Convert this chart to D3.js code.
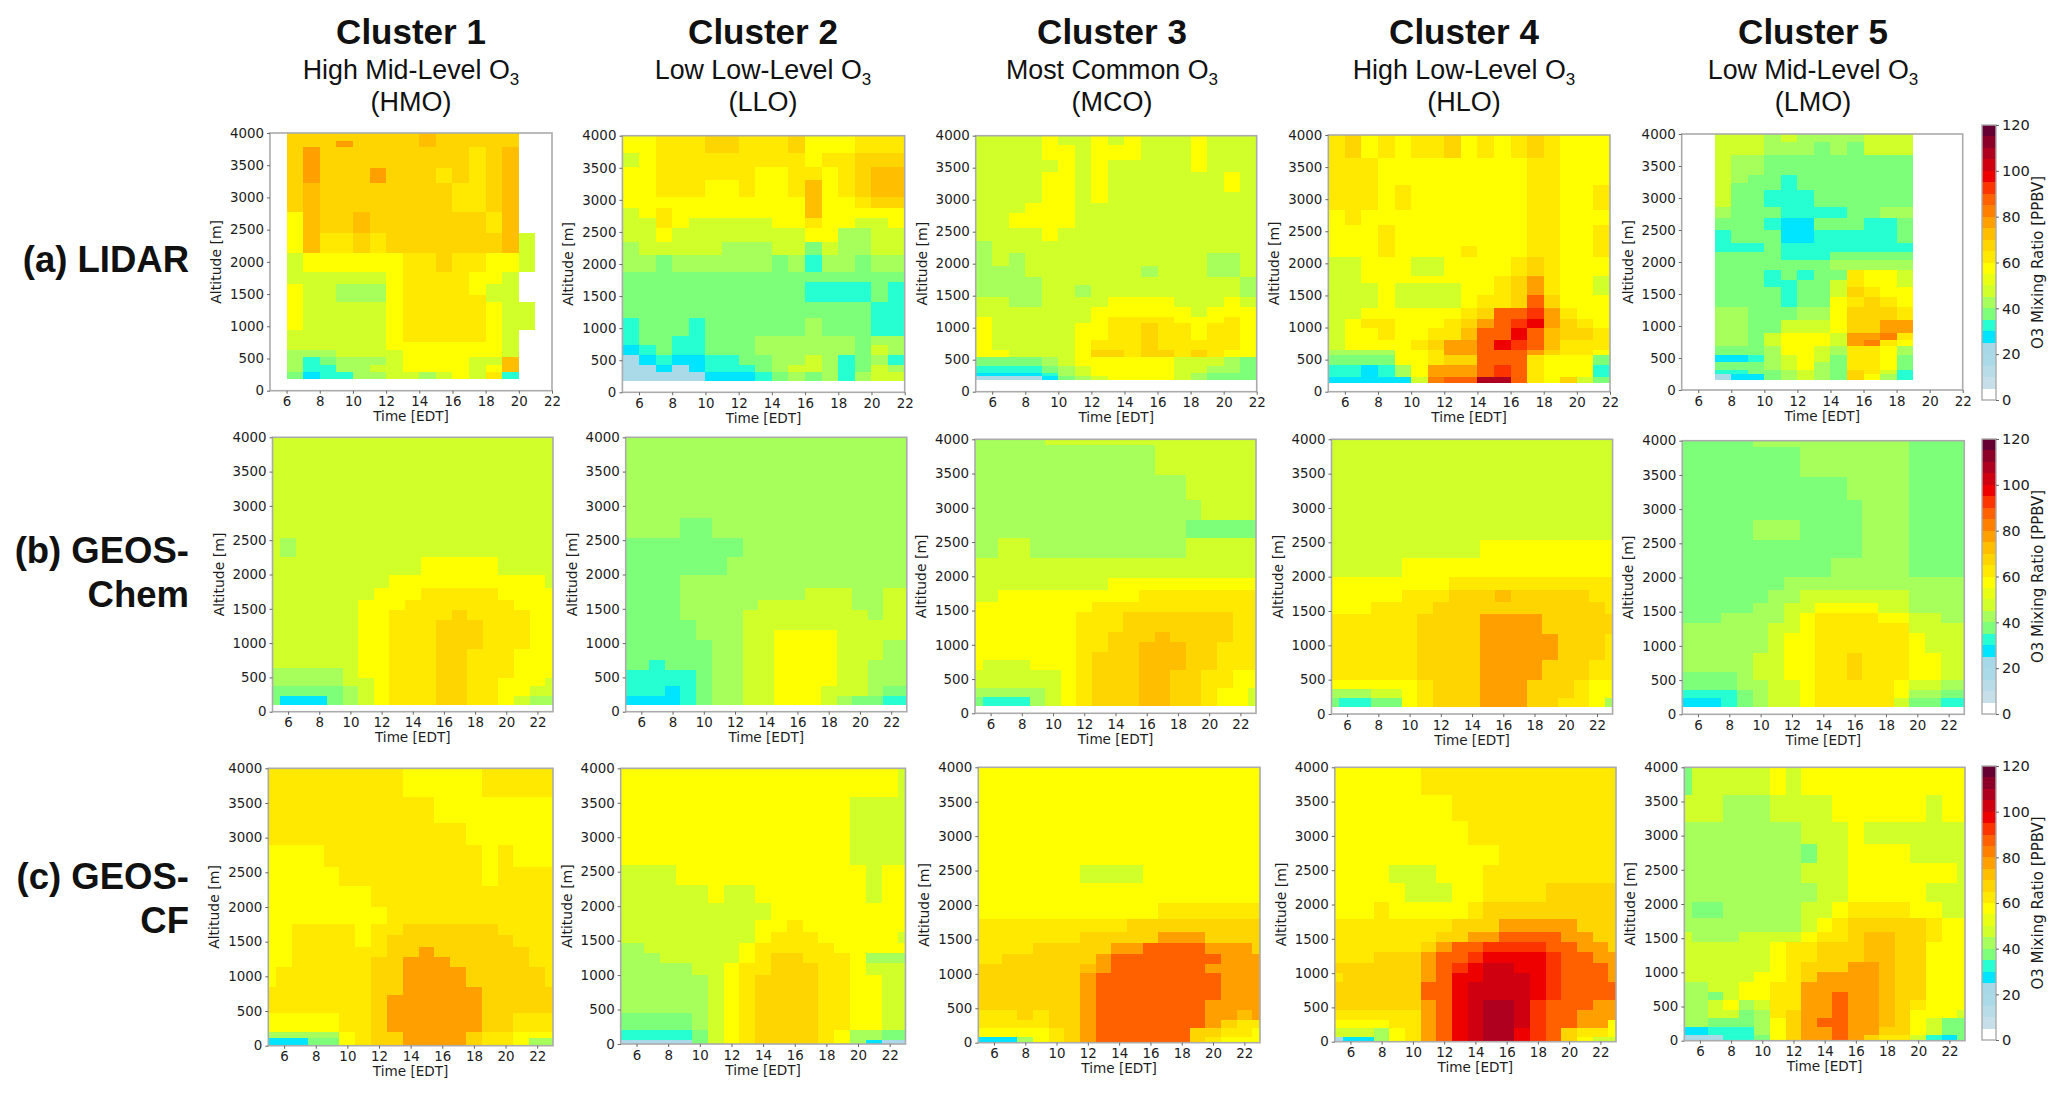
<!DOCTYPE html>
<html><head><meta charset="utf-8">
<script src="https://cdn.jsdelivr.net/npm/d3@7/dist/d3.min.js"></script>
<style>html,body{margin:0;padding:0;background:#fff}svg{display:block}</style>
</head><body><div id="chart"></div>
<script>
// ---- categories and labels
const clusterNames=["Cluster 1","Cluster 2","Cluster 3","Cluster 4","Cluster 5"];
const clusterSubs=["High Mid-Level O","Low Low-Level O","Most Common O","High Low-Level O","Low Mid-Level O"];
const clusterAbbr=["(HMO)","(LLO)","(MCO)","(HLO)","(LMO)"];
const altTicks=[0,500,1000,1500,2000,2500,3000,3500,4000];
const hourTicks=[6,8,10,12,14,16,18,20,22];
const barTicks=[0,20,40,60,80,100,120];
const barBands=[0,5,10,15,20,25,30,35,40,45,50,55,60,65,70,75,80,85,90,95,100,105,110,115,120];
const barColors=["#ffffff","#c6dfe8","#b8dce8","#aad9e8","#a6d8e8","#00e5ff","#26ffd2","#7dff7a","#a6ff5a","#d0ff2a","#e8ff14","#ffff00","#ffe900","#ffd500","#ffbf00","#ff9f00","#ff7f00","#ff6000","#fb3400","#ee0000","#cf0010","#b00020","#8c0028","#660033"];

// ---- LIDAR: altitude edges [m] and O3 by hour (ppbv), bottom row first
const a1Start=6;
const a1Alt=[180,295,400,530,630,760,940,1370,1490,1650,1840,2135,2445,2780,3225,3455,3775,3870,4000];
const a1Vals=[
[37,27,32,32,42,42,47,47,42,47,57,47,62,32,null],
[42,32,32,42,42,47,47,57,57,57,57,47,57,72,null],
[42,32,37,42,42,42,47,57,57,57,57,47,47,72,null],
[42,42,42,47,47,47,47,57,57,57,57,57,57,47,null],
[47,47,47,47,47,47,57,57,57,57,57,57,57,47,null],
[47,47,47,47,47,47,57,62,62,62,62,62,57,47,null],
[57,47,47,47,47,47,57,62,62,62,62,62,57,47,47],
[57,47,47,42,42,42,57,62,62,62,62,62,47,47,null],
[57,47,47,42,42,42,57,62,62,62,62,57,47,47,null],
[47,47,47,47,47,47,57,62,62,62,62,57,57,47,null],
[47,57,57,57,57,57,57,62,62,67,62,62,57,57,47],
[57,72,62,62,67,62,67,67,67,67,67,67,67,72,47],
[57,72,67,67,72,67,67,67,67,67,67,67,62,72,null],
[67,72,67,67,67,67,67,67,67,67,62,62,67,72,null],
[67,77,67,67,67,77,67,67,67,62,67,62,67,72,null],
[67,77,67,67,67,67,67,67,67,67,67,62,67,72,null],
[67,67,67,77,67,67,67,67,72,67,67,67,67,67,null],
[67,67,67,67,67,67,67,67,72,67,67,67,67,67,null]];

const a2Start=5;
const a2Alt=[175,320,425,580,740,870,1155,1415,1725,1880,2140,2350,2555,2710,2870,3050,3310,3515,3725,4000];
const a2Vals=[
[15,15,15,15,15,27,27,27,32,37,42,37,42,32,42,47,47],
[15,15,27,15,27,32,32,32,37,42,47,47,42,32,37,47,42],
[15,27,32,27,27,32,32,37,37,42,42,47,42,32,37,42,32],
[27,32,37,32,32,37,37,37,42,42,42,42,42,42,37,47,42],
[32,37,37,32,32,37,37,37,42,42,42,42,42,42,37,42,42],
[32,37,37,37,32,37,37,37,37,37,37,42,37,37,37,32,32],
[37,37,37,37,37,37,37,37,37,37,37,37,37,37,37,32,32],
[37,37,37,37,37,37,37,37,37,37,37,32,32,32,32,37,32],
[37,37,37,37,37,37,37,37,37,37,37,37,37,37,37,37,37],
[42,42,37,42,42,42,42,42,42,37,42,32,42,42,37,42,42],
[42,47,47,47,47,47,42,42,42,47,47,37,47,42,42,47,47],
[47,47,57,47,47,47,47,47,47,47,47,57,57,42,42,47,47],
[47,47,62,57,47,47,47,47,47,57,57,62,57,57,47,47,57],
[47,57,62,57,57,57,57,57,57,57,57,72,57,57,57,57,57],
[57,57,57,57,57,57,57,57,57,57,57,72,57,57,62,67,67],
[57,57,62,62,62,57,57,62,57,57,62,72,57,62,67,72,72],
[57,57,62,62,62,62,62,62,57,57,62,62,57,62,67,72,72],
[47,57,62,62,62,62,62,62,62,62,62,57,62,62,67,67,67],
[57,57,62,62,62,67,67,62,62,62,67,57,57,57,62,62,62]];

const a3Start=5;
const a3Alt=[180,245,300,400,545,655,810,1070,1170,1330,1485,1665,1800,1960,2170,2350,2560,2790,2950,3125,3440,3620,3850,4000];
const a3Vals=[
[15,15,15,15,27,37,42,47,57,57,57,57,47,42,37,37,37],
[27,27,27,27,32,42,47,57,57,57,57,57,47,42,37,37,37],
[32,32,32,32,37,42,47,57,57,57,57,57,47,47,42,42,37],
[37,37,37,37,42,47,57,57,57,57,57,57,47,47,47,42,37],
[57,57,47,47,47,47,57,67,67,62,67,67,62,67,62,57,57],
[57,47,47,47,47,47,57,62,62,62,67,62,62,62,62,62,57],
[57,47,47,47,47,47,57,57,62,62,67,62,62,57,62,62,57],
[57,47,47,47,47,47,47,57,62,62,62,62,57,57,57,62,57],
[47,47,47,47,47,47,47,57,57,57,57,57,57,47,57,57,57],
[47,47,42,42,47,47,47,47,57,57,57,57,47,47,47,57,47],
[42,42,42,42,47,47,42,47,47,47,47,47,47,47,47,47,42],
[42,42,42,42,47,47,47,47,47,47,47,47,47,47,47,47,42],
[42,42,42,47,47,47,47,47,47,47,42,47,47,47,42,42,47],
[42,47,42,47,47,47,47,47,47,47,47,47,47,47,42,42,47],
[42,47,47,47,47,47,47,47,47,47,47,47,47,47,47,47,47],
[47,47,47,47,57,47,47,47,47,47,47,47,47,47,47,47,47],
[47,47,57,57,57,57,47,47,47,47,47,47,47,47,47,47,47],
[47,47,47,57,57,57,47,47,47,47,47,47,47,47,47,47,47],
[47,47,47,47,57,57,47,57,47,47,47,47,47,47,47,47,47],
[47,47,47,47,57,57,47,57,47,47,47,47,47,47,47,57,47],
[47,47,47,47,47,57,47,57,47,47,47,47,47,57,47,47,47],
[47,47,47,47,57,57,47,57,57,57,47,47,47,57,47,47,47],
[47,47,47,47,57,47,47,57,47,57,47,47,47,57,47,47,47]];

const a4Start=5;
const a4Alt=[140,235,420,570,650,805,985,1140,1300,1510,1690,1800,2100,2270,2590,2830,3220,3640,4000];
const a4Vals=[
[27,27,27,27,27,47,82,87,87,107,107,87,62,57,67,47,37],
[32,32,27,32,42,57,77,77,77,87,92,87,62,57,57,57,32],
[37,37,37,37,57,57,62,67,67,87,87,87,62,57,57,57,37],
[42,42,42,42,57,57,62,77,77,87,87,87,77,67,62,62,57],
[47,57,57,57,57,62,67,77,77,87,97,92,87,72,62,62,62],
[47,57,57,62,57,57,62,62,72,87,87,97,87,72,67,67,62],
[47,57,62,62,57,57,57,62,67,77,87,92,97,77,67,62,57],
[47,47,57,57,57,57,57,57,62,67,87,87,92,77,62,57,57],
[47,47,47,57,47,47,47,47,57,62,62,67,87,67,57,57,57],
[47,47,47,57,47,47,47,47,57,57,62,67,77,62,57,57,47],
[47,47,57,57,57,57,57,57,57,57,62,67,77,62,57,57,47],
[47,47,57,57,57,47,47,57,57,57,57,62,67,62,57,57,57],
[57,57,57,62,57,57,57,57,62,57,57,57,62,62,57,57,62],
[57,57,57,62,57,57,57,57,57,57,57,57,62,62,57,57,62],
[57,62,57,57,57,57,57,57,57,57,57,57,62,62,57,57,57],
[62,62,62,57,62,57,57,57,57,57,57,57,62,62,57,57,62],
[62,62,62,57,57,57,57,57,57,57,57,57,62,62,57,57,57],
[62,67,57,62,57,62,62,67,57,62,57,62,67,62,57,57,57]];

const a5Start=7;
const a5Alt=[155,250,310,440,545,680,780,885,1090,1300,1460,1615,1720,1875,2030,2160,2290,2500,2680,2865,3125,3230,3360,3670,3880,4000];
const a5Vals=[
[15,27,27,37,42,47,42,37,67,57,42,32],
[32,32,37,37,42,47,42,37,67,62,47,32],
[37,37,37,42,47,57,42,37,62,62,57,37],
[27,27,32,42,47,57,47,37,62,62,57,37],
[37,37,37,42,57,57,47,42,62,62,57,42],
[42,42,37,47,57,57,57,47,77,82,62,57],
[42,42,37,47,57,57,57,47,77,77,82,62],
[42,42,37,37,47,47,47,57,67,67,77,77],
[42,42,37,37,37,42,42,57,67,67,67,62],
[37,37,37,37,32,37,37,57,62,67,62,57],
[37,37,37,37,32,37,37,47,67,62,57,57],
[37,37,37,32,32,37,37,47,62,57,57,47],
[37,37,37,32,37,32,37,37,62,57,57,47],
[37,37,37,37,37,37,37,42,42,42,42,42],
[37,37,37,37,32,32,32,37,37,37,37,37],
[32,32,32,37,32,32,32,32,32,32,32,32],
[32,37,37,37,27,27,32,32,32,32,32,37],
[37,37,37,32,27,27,37,37,37,32,32,37],
[42,37,37,37,32,32,32,32,37,37,42,42],
[47,37,37,32,32,32,37,37,37,37,37,37],
[47,37,37,37,32,37,37,37,37,37,37,37],
[47,42,37,37,32,37,37,37,37,37,37,37],
[47,42,42,37,37,37,37,37,37,37,37,37],
[47,47,47,42,42,42,37,42,37,47,47,47],
[47,47,47,42,47,42,42,42,42,47,47,47]];

// ---- GEOS-Chem: 19 columns, centred on hours 5..23
const b1Alt=[100,235,370,490,630,920,1335,1480,1630,1800,1990,2260,2530,4000];
const b1Vals=[
[37,27,27,27,37,42,47,57,62,62,62,67,67,62,62,57,47,42,42],
[37,37,37,37,37,42,47,57,62,62,62,67,67,62,62,57,57,47,47],
[42,42,42,42,42,47,47,57,62,62,62,67,67,62,62,57,57,57,47],
[42,42,42,42,42,47,57,57,62,62,62,67,67,62,62,62,57,57,57],
[47,47,47,47,47,47,57,57,62,62,62,67,67,62,62,62,57,57,57],
[47,47,47,47,47,47,57,57,62,62,62,67,67,67,62,62,62,57,57],
[47,47,47,47,47,47,57,57,62,62,62,62,67,62,62,62,62,57,57],
[47,47,47,47,47,47,57,57,57,62,62,62,62,62,62,62,57,57,57],
[47,47,47,47,47,47,47,57,57,57,62,62,62,62,62,57,57,57,57],
[47,47,47,47,47,47,47,47,57,57,57,57,57,57,57,57,57,57,47],
[47,47,47,47,47,47,47,47,47,47,57,57,57,57,57,47,47,47,47],
[47,42,47,47,47,47,47,47,47,47,47,47,47,47,47,47,47,47,47],
[47,47,47,47,47,47,47,47,47,47,47,47,47,47,47,47,47,47,47]];

const b2Alt=[100,235,370,610,750,1050,1190,1335,1480,1630,1800,1990,2260,2530,2820,4000];
const b2Vals=[
[27,27,27,27,32,37,42,42,47,47,57,57,57,47,42,37,37,32,32],
[32,32,32,27,32,37,42,42,47,47,57,57,57,47,47,47,42,37,37],
[32,32,32,32,32,37,42,42,47,47,57,57,57,57,47,47,42,42,42],
[37,37,32,37,37,37,42,42,47,47,57,57,57,57,47,47,42,42,42],
[37,37,37,37,37,37,42,42,47,47,57,57,57,57,47,47,47,42,42],
[37,37,37,37,37,42,42,42,47,47,57,57,57,57,47,47,47,47,47],
[37,37,37,37,37,42,42,42,47,47,47,47,47,47,47,47,47,47,47],
[37,37,37,37,42,42,42,42,47,47,47,47,47,47,47,47,42,47,47],
[37,37,37,37,42,42,42,42,42,47,47,47,47,47,47,42,42,47,47],
[37,37,37,37,42,42,42,42,42,42,42,42,47,47,47,42,42,47,47],
[37,37,37,37,42,42,42,42,42,42,42,42,42,42,42,42,42,42,42],
[37,37,37,37,37,37,37,42,42,42,42,42,42,42,42,42,42,42,42],
[37,37,37,37,37,37,37,37,42,42,42,42,42,42,42,42,42,42,42],
[42,42,42,42,37,37,42,42,42,42,42,42,42,42,42,42,42,42,42],
[42,42,42,42,42,42,42,42,42,42,42,42,42,42,42,42,42,42,42]];

const b3Alt=[100,240,365,630,780,900,1045,1190,1480,1625,1795,1980,2265,2555,2820,3115,3480,3920,4000];
const b3Vals=[
[37,32,32,32,42,47,57,62,67,67,67,72,72,67,67,62,57,57,47],
[42,42,42,42,42,47,57,62,67,67,67,72,72,67,67,62,57,57,47],
[47,47,47,47,47,47,57,62,67,67,67,72,72,67,67,62,62,57,57],
[57,47,47,47,57,57,57,62,67,67,67,72,72,72,67,67,62,62,62],
[57,57,57,57,57,57,57,62,67,67,67,72,72,72,67,67,62,62,62],
[57,57,57,57,57,57,57,62,62,67,67,72,72,72,67,67,62,62,62],
[57,57,57,57,57,57,57,62,62,67,67,67,72,67,67,67,67,62,62],
[57,57,57,57,57,57,57,62,62,62,67,67,67,67,67,67,67,62,62],
[57,57,57,57,57,57,57,57,62,62,62,62,62,62,62,62,62,62,62],
[47,47,57,57,57,57,57,57,57,57,57,62,62,62,62,62,62,62,62],
[47,47,47,47,47,47,47,47,47,57,57,57,57,57,57,57,57,57,57],
[47,47,47,47,47,47,47,47,47,47,47,47,47,47,47,47,47,47,47],
[42,42,47,47,42,42,42,42,42,42,42,42,42,42,47,47,47,47,47],
[42,42,42,42,42,42,42,42,42,42,42,42,42,42,37,37,37,37,37],
[42,42,42,42,42,42,42,42,42,42,42,42,42,42,42,47,47,47,47],
[42,42,42,42,42,42,42,42,42,42,42,42,42,42,47,47,47,47,47],
[42,42,42,42,42,42,42,42,42,42,42,42,47,47,47,47,47,47,47],
[42,42,42,42,42,47,47,47,47,47,47,47,47,47,47,47,47,47,47]];

const b4Alt=[100,240,365,490,780,1170,1460,1630,1800,1995,2265,2530,4000];
const b4Vals=[
[37,32,32,37,37,57,62,67,67,67,77,77,77,67,67,62,62,57,42],
[42,42,42,47,47,57,62,67,67,67,77,77,77,67,67,67,62,57,57],
[57,57,57,57,57,57,62,67,67,67,77,77,77,67,67,67,62,57,57],
[62,62,62,62,62,62,67,67,67,67,77,77,77,77,67,67,67,62,62],
[62,62,62,62,62,62,67,67,67,67,77,77,77,77,77,67,67,67,62],
[62,62,62,62,62,62,67,67,67,67,77,77,77,77,67,67,67,67,67],
[57,57,57,62,62,62,62,67,67,67,67,67,67,67,67,67,67,67,62],
[57,57,57,57,57,62,62,62,67,67,67,72,67,67,67,67,67,62,62],
[57,57,57,57,57,57,57,57,62,62,62,62,62,62,62,62,62,62,62],
[47,47,47,47,47,57,57,57,57,57,57,57,57,57,57,57,57,57,57],
[47,47,47,47,47,47,47,47,47,47,57,57,57,57,57,57,57,57,57],
[47,47,47,47,47,47,47,47,47,47,47,47,47,47,47,47,47,47,47]];

const b5Alt=[100,235,355,500,625,890,1185,1330,1480,1625,1820,2010,2280,2550,2840,3130,3475,3910,4000];
const b5Vals=[
[27,27,27,32,37,42,47,47,57,62,62,62,62,62,47,37,37,32,32],
[32,32,32,32,37,42,47,47,57,62,62,62,62,62,57,42,42,37,37],
[37,37,37,37,42,42,47,47,57,62,62,62,62,62,57,47,47,42,42],
[37,37,37,37,42,47,47,57,57,62,62,67,62,62,62,57,57,47,47],
[42,42,42,42,42,47,47,57,57,62,62,67,62,62,62,57,57,47,47],
[42,42,42,42,42,42,47,57,57,62,62,62,62,62,62,57,47,47,47],
[42,42,42,42,42,42,47,47,57,62,62,62,62,62,62,47,47,47,47],
[37,37,37,42,42,42,42,47,57,62,62,62,62,57,57,47,47,42,42],
[37,37,37,37,37,42,42,47,47,57,57,57,57,47,47,42,42,42,42],
[37,37,37,37,37,37,42,42,47,47,47,47,47,47,47,42,42,42,42],
[37,37,37,37,37,37,37,42,42,42,42,42,42,42,42,42,42,42,42],
[37,37,37,37,37,37,37,37,37,37,42,42,42,42,42,37,37,37,37],
[37,37,37,37,37,37,37,37,37,37,37,37,42,42,42,37,37,37,37],
[37,37,37,37,37,42,42,42,37,37,37,37,42,42,42,37,37,37,37],
[37,37,37,37,37,37,37,37,37,37,37,37,42,42,42,37,37,37,37],
[37,37,37,37,37,37,37,37,37,37,37,42,42,42,42,37,37,37,37],
[37,37,37,37,37,37,37,37,42,42,42,42,42,42,42,37,37,37,37],
[37,37,37,37,37,42,42,42,42,42,42,42,42,42,42,37,37,37,37]];

// ---- GEOS-CF: 19 columns, centred on hours 5..23
const c1Alt=[0,105,200,465,730,850,1140,1285,1420,1590,1760,2000,2300,2580,2895,3205,3590,4000];
const c1Vals=[
[27,27,27,37,37,57,62,67,67,77,77,77,77,67,62,62,57,42,42],
[42,42,42,42,42,57,62,67,67,77,77,77,77,67,62,62,57,57,57],
[57,57,57,57,57,62,62,67,77,77,77,77,77,77,67,67,62,62,62],
[62,62,62,62,62,62,62,67,77,77,77,77,77,77,67,67,67,67,67],
[62,62,62,62,62,62,62,67,67,77,77,77,77,77,67,67,67,67,67],
[57,62,62,62,62,62,62,67,67,77,77,77,77,67,67,67,67,67,62],
[57,57,62,62,62,62,62,67,67,77,77,77,67,67,67,67,67,62,62],
[57,57,62,62,62,62,62,62,67,67,77,67,67,67,67,67,67,62,62],
[57,57,62,62,62,62,57,62,67,67,67,67,67,67,67,67,62,62,62],
[57,57,62,62,62,62,57,62,62,67,67,67,67,67,67,62,62,62,62],
[57,57,57,57,57,57,57,57,62,62,62,62,62,62,62,62,62,62,62],
[57,57,57,57,57,57,57,62,62,62,62,62,62,62,62,62,62,62,62],
[57,57,57,57,57,62,62,62,62,62,62,62,62,62,57,62,62,62,62],
[57,57,57,57,62,62,62,62,62,62,62,62,62,62,57,62,57,57,57],
[62,62,62,62,62,62,62,62,62,62,62,62,62,57,57,57,57,57,57],
[62,62,62,62,62,62,62,62,62,62,62,57,57,57,57,57,57,57,57],
[62,62,62,62,62,62,62,62,62,57,57,57,57,57,62,62,62,62,62]];

const c2Alt=[0,60,200,445,1000,1170,1315,1460,1630,1800,2040,2305,2600,3590,4000];
const c2Vals=[
[15,15,15,15,15,37,47,57,62,67,67,67,67,62,57,42,27,15,15],
[32,32,32,32,32,37,47,57,62,67,67,67,67,62,57,42,42,37,37],
[37,37,37,37,37,42,47,57,62,67,67,67,67,62,62,57,57,47,47],
[42,42,42,42,42,42,47,57,62,67,67,67,67,62,62,57,57,47,47],
[42,42,42,42,42,47,47,57,62,62,67,67,67,62,62,57,47,47,47],
[42,42,42,47,47,47,47,47,57,62,67,67,62,62,62,57,42,42,42],
[42,42,47,47,47,47,47,47,57,62,62,62,62,62,57,57,57,57,57],
[47,47,47,47,47,47,47,47,47,57,62,62,62,57,57,57,57,57,47],
[47,47,47,47,47,47,47,47,47,57,57,62,57,57,57,57,57,57,57],
[47,47,47,47,47,47,47,47,47,47,57,57,57,57,57,57,57,57,57],
[47,47,47,47,47,47,57,47,47,57,57,57,57,57,57,57,47,57,57],
[47,47,47,47,57,57,57,57,57,57,57,57,57,57,57,57,47,57,57],
[57,57,57,57,57,57,57,57,57,57,57,57,57,57,57,47,47,47,47],
[57,57,57,57,57,57,57,57,57,57,57,57,57,57,57,57,57,57,47]];

const c3Alt=[0,90,210,330,475,620,1010,1150,1295,1450,1610,1790,2025,2315,2580,4000];
const c3Vals=[
[27,27,27,42,57,62,67,77,87,87,87,87,87,87,67,62,57,57,57],
[57,57,57,57,57,62,67,77,87,87,87,87,87,87,67,67,62,62,57],
[62,62,62,62,62,67,67,77,87,87,87,87,87,87,87,77,67,62,62],
[62,62,62,67,62,67,67,77,87,87,87,87,87,87,87,77,77,72,77],
[67,67,67,67,67,67,67,77,87,87,87,87,87,87,87,77,77,77,77],
[67,67,67,67,67,67,67,77,87,87,87,87,87,87,87,87,77,77,77],
[67,67,67,67,67,67,67,72,77,87,87,87,87,87,87,77,77,77,77],
[62,62,67,67,67,67,67,67,77,87,87,87,87,87,87,87,77,77,77],
[62,62,62,62,67,67,67,67,67,77,77,87,87,87,87,77,77,77,67],
[62,62,62,62,62,62,62,67,67,67,67,67,77,77,77,67,67,67,67],
[62,62,62,62,62,62,62,62,62,62,67,67,67,67,67,67,67,67,67],
[57,57,57,57,57,57,57,57,57,57,57,57,62,62,62,62,62,62,62],
[57,57,57,57,57,57,57,57,57,57,57,57,57,57,57,57,57,57,57],
[57,57,57,57,57,57,57,47,47,47,47,57,57,57,57,57,57,57,57],
[57,57,57,57,57,57,57,57,57,57,57,57,57,57,57,57,57,57,57]];

const c4Alt=[0,75,195,315,460,610,875,1000,1140,1310,1460,1605,1785,2040,2315,2580,2870,3210,3600,4000];
const c4Vals=[
[15,27,27,42,57,62,77,87,97,102,107,107,97,92,87,67,57,47,47],
[47,47,47,42,57,62,77,87,97,102,107,107,97,92,87,67,62,62,57],
[57,57,57,57,62,62,77,87,97,102,107,107,102,92,87,87,77,77,57],
[62,62,62,62,62,62,77,87,97,102,107,107,102,92,87,87,77,77,77],
[67,67,67,67,67,67,77,87,97,102,107,107,102,92,87,87,87,77,77],
[67,67,67,67,67,67,87,87,97,102,102,102,102,97,92,87,87,87,87],
[62,67,67,67,67,67,77,87,97,97,102,102,102,97,92,87,87,87,77],
[67,67,67,67,67,67,77,87,92,97,102,102,97,97,92,87,87,87,77],
[62,62,62,67,67,67,77,87,87,92,97,97,97,97,92,87,87,77,77],
[62,62,62,62,62,62,67,77,87,87,92,92,92,92,87,87,77,77,67],
[62,62,62,62,62,62,62,67,67,77,77,87,87,87,87,77,77,67,67],
[62,62,62,62,62,62,62,62,67,67,67,77,77,77,77,77,67,67,67],
[57,57,57,62,57,57,57,57,57,62,67,67,67,67,67,67,67,67,67],
[57,57,57,57,57,47,47,47,57,57,62,62,62,62,67,67,67,67,67],
[57,57,57,57,47,47,47,57,57,57,62,62,62,62,62,62,62,62,62],
[57,57,57,57,57,57,57,57,57,57,57,62,62,62,62,62,62,62,62],
[57,57,57,57,57,57,57,57,57,62,62,62,62,62,62,62,62,62,62],
[57,57,57,57,57,57,57,57,62,62,62,62,62,62,62,62,62,62,62],
[57,57,57,57,57,57,62,62,62,62,62,62,62,62,62,62,62,62,62]];

const c5Alt=[0,85,205,325,450,595,715,865,1010,1155,1450,1595,1790,2035,2300,2600,2880,3205,3595,4000];
const c5Vals=[
[15,15,15,32,32,37,57,67,77,77,87,77,67,62,62,47,32,27,37],
[27,27,32,32,32,42,57,67,77,77,87,77,77,67,67,57,47,37,37],
[42,42,37,37,37,42,57,67,77,87,87,77,77,72,67,57,47,37,37],
[42,42,47,47,37,42,62,67,77,77,87,77,77,72,67,57,57,57,47],
[42,42,47,57,42,47,62,62,77,77,87,77,77,72,67,62,57,57,57],
[42,42,37,47,57,57,62,62,77,77,87,77,77,72,67,67,57,57,57],
[42,42,47,47,57,57,62,62,77,77,77,77,77,72,67,67,57,57,57],
[47,47,47,47,47,57,57,62,67,77,77,77,77,72,67,67,57,57,57],
[47,47,47,47,47,47,57,62,67,67,67,77,77,72,67,67,57,57,57],
[47,47,47,47,47,47,57,62,62,67,67,67,72,72,67,67,57,57,57],
[47,42,42,42,47,47,47,47,57,62,62,67,72,72,67,67,62,57,57],
[42,42,42,42,42,42,42,42,47,57,62,67,67,67,67,67,62,57,57],
[42,37,37,42,42,42,42,42,47,47,57,62,62,62,62,57,57,47,47],
[42,42,42,42,42,42,42,42,42,47,47,57,57,57,57,57,47,47,47],
[42,42,42,42,42,42,42,42,47,47,47,57,57,57,57,57,57,57,47],
[42,42,42,42,42,42,42,42,37,47,47,57,57,57,57,47,47,47,47],
[42,42,42,42,42,42,42,42,47,47,47,57,47,47,47,47,47,47,47],
[47,47,47,42,42,42,47,47,47,47,57,57,57,57,57,57,47,57,57],
[37,47,47,47,47,47,57,47,57,57,57,57,57,57,57,57,57,57,57]];

// ---- layout (pixel boxes, x0,x1,top,bottom)
const lidarBoxes=[[270,552,133,390.7],[622.4,904.7,135.7,392.3],[975.7,1256.7,135.7,391.7],[1328.3,1610,135,391.7],[1681.7,1962.7,134,390]];
const chemBoxes=[[272.5,553,437.3,711.7],[625.7,906.8,437.3,711.7],[975,1256,439.3,713.3],[1331.5,1612.6,439.3,714],[1682.3,1964.3,440.7,714.3]];
const cfBoxes=[[268.3,553,768.3,1045.7],[620.7,905.5,768.3,1044],[978.3,1260,767.3,1042.7],[1334.8,1616,767.3,1041.7],[1684.3,1965,767.3,1040.7]];
const barBoxes=[[1982,1996,125,400],[1982,1996,439,714],[1982,1996,766,1040]];
const titleCenters=[411,763,1112,1464,1813];

const lidarPanels=[[a1Alt,a1Vals,a1Start],[a2Alt,a2Vals,a2Start],[a3Alt,a3Vals,a3Start],[a4Alt,a4Vals,a4Start],[a5Alt,a5Vals,a5Start]];
const chemPanels=[[b1Alt,b1Vals],[b2Alt,b2Vals],[b3Alt,b3Vals],[b4Alt,b4Vals],[b5Alt,b5Vals]];
const cfPanels=[[c1Alt,c1Vals],[c2Alt,c2Vals],[c3Alt,c3Vals],[c4Alt,c4Vals],[c5Alt,c5Vals]];

const FRAME="#ababab", INK="#1c1c1c", TICKFONT="'DejaVu Sans',sans-serif", HEADFONT="'Liberation Sans',Arial,sans-serif";
const color=d3.scaleThreshold().domain(barBands.slice(1,-1)).range(barColors);
const svg=d3.select("#chart").append("svg").attr("width",2067).attr("height",1104).style("background","#fff");

function drawPanel(box,alts,vals,startHour,xMax){
  const [x0,x1,top,bot]=box;
  const x=d3.scaleLinear().domain([5,xMax]).range([x0,x1]);
  const y=d3.scaleLinear().domain([0,4000]).range([bot,top]);
  const g=svg.append("g");
  const cells=[];
  vals.forEach((row,r)=>row.forEach((v,c)=>{
    if(v==null)return;
    let a,b;
    if(startHour!=null){a=startHour+c;b=a+1;}
    else{const h=5+c;a=Math.max(5,h-.5);b=Math.min(xMax,h+.5);}
    cells.push({a,b,lo:alts[r],hi:alts[r+1],v});
  }));
  g.selectAll("rect.cell").data(cells).join("rect").attr("class","cell")
    .attr("x",d=>x(d.a)).attr("width",d=>x(d.b)-x(d.a))
    .attr("y",d=>y(d.hi)).attr("height",d=>y(d.lo)-y(d.hi))
    .attr("fill",d=>color(d.v)).attr("shape-rendering","crispEdges");
  g.append("rect").attr("x",x0).attr("y",top).attr("width",x1-x0).attr("height",bot-top)
    .attr("fill","none").attr("stroke",FRAME).attr("stroke-width",1.6);
  const ax=g.append("g").attr("transform",`translate(0,${bot})`)
    .call(d3.axisBottom(x).tickValues(hourTicks).tickFormat(d3.format("d")).tickSize(3).tickPadding(3));
  const ay=g.append("g").attr("transform",`translate(${x0},0)`)
    .call(d3.axisLeft(y).tickValues(altTicks).tickFormat(d3.format("d")).tickSize(3).tickPadding(3));
  [ax,ay].forEach(s=>{s.select(".domain").remove();
    s.selectAll("line").attr("stroke","#666");
    s.selectAll("text").attr("fill",INK).attr("font-family",TICKFONT).attr("font-size",13.4);});
  g.append("text").attr("x",(x0+x1)/2).attr("y",bot+30.5).attr("text-anchor","middle")
    .attr("font-family",TICKFONT).attr("font-size",13.6).attr("fill",INK).text("Time [EDT]");
  g.append("text").attr("transform",`translate(${x0-49},${(top+bot)/2}) rotate(-90)`).attr("text-anchor","middle")
    .attr("font-family",TICKFONT).attr("font-size",14).attr("fill",INK).text("Altitude [m]");
}
lidarPanels.forEach((p,i)=>drawPanel(lidarBoxes[i],p[0],p[1],p[2],22));
chemPanels.forEach((p,i)=>drawPanel(chemBoxes[i],p[0],p[1],null,23));
cfPanels.forEach((p,i)=>drawPanel(cfBoxes[i],p[0],p[1],null,23));

// colourbars
barBoxes.forEach(([x0,x1,top,bot])=>{
  const y=d3.scaleLinear().domain([0,120]).range([bot,top]);
  const g=svg.append("g");
  g.selectAll("rect.band").data(barColors).join("rect").attr("class","band")
    .attr("x",x0).attr("width",x1-x0)
    .attr("y",(c,i)=>y(barBands[i+1])).attr("height",(c,i)=>y(barBands[i])-y(barBands[i+1]))
    .attr("fill",c=>c).attr("shape-rendering","crispEdges");
  g.append("rect").attr("x",x0).attr("y",top).attr("width",x1-x0).attr("height",bot-top)
    .attr("fill","none").attr("stroke",FRAME).attr("stroke-width",1.4);
  const a=g.append("g").attr("transform",`translate(${x1},0)`)
    .call(d3.axisRight(y).tickValues(barTicks).tickSize(3).tickPadding(3));
  a.select(".domain").remove();
  a.selectAll("line").attr("stroke","#666");
  a.selectAll("text").attr("fill",INK).attr("font-family",TICKFONT).attr("font-size",14.6);
  g.append("text").attr("transform",`translate(${x1+47},${(top+bot)/2}) rotate(-90)`).attr("text-anchor","middle")
    .attr("font-family",TICKFONT).attr("font-size",15).attr("fill",INK).text("O3 Mixing Ratio [PPBV]");
});

// headers
titleCenters.forEach((cx,i)=>{
  svg.append("text").attr("x",cx).attr("y",44).attr("text-anchor","middle").attr("font-family",HEADFONT)
    .attr("font-weight","bold").attr("font-size",35).attr("fill","#111").text(clusterNames[i]);
  const t=svg.append("text").attr("x",cx).attr("y",79).attr("text-anchor","middle").attr("font-family",HEADFONT)
    .attr("font-size",26.8).attr("fill","#111").text(clusterSubs[i]);
  t.append("tspan").attr("font-size",17).attr("dy",6).text("3");
  svg.append("text").attr("x",cx).attr("y",111).attr("text-anchor","middle").attr("font-family",HEADFONT)
    .attr("font-size",27).attr("fill","#111").text(clusterAbbr[i]);
});
const rowLabels=[["(a) LIDAR",272],["(b) GEOS-",563],["Chem",607],["(c) GEOS-",889],["CF",933]];
svg.selectAll("text.rowlab").data(rowLabels).join("text").attr("class","rowlab")
  .attr("x",189).attr("y",d=>d[1]).attr("text-anchor","end").attr("font-family",HEADFONT)
  .attr("font-weight","bold").attr("font-size",36.5).attr("fill","#111").text(d=>d[0]);
</script></body></html>
